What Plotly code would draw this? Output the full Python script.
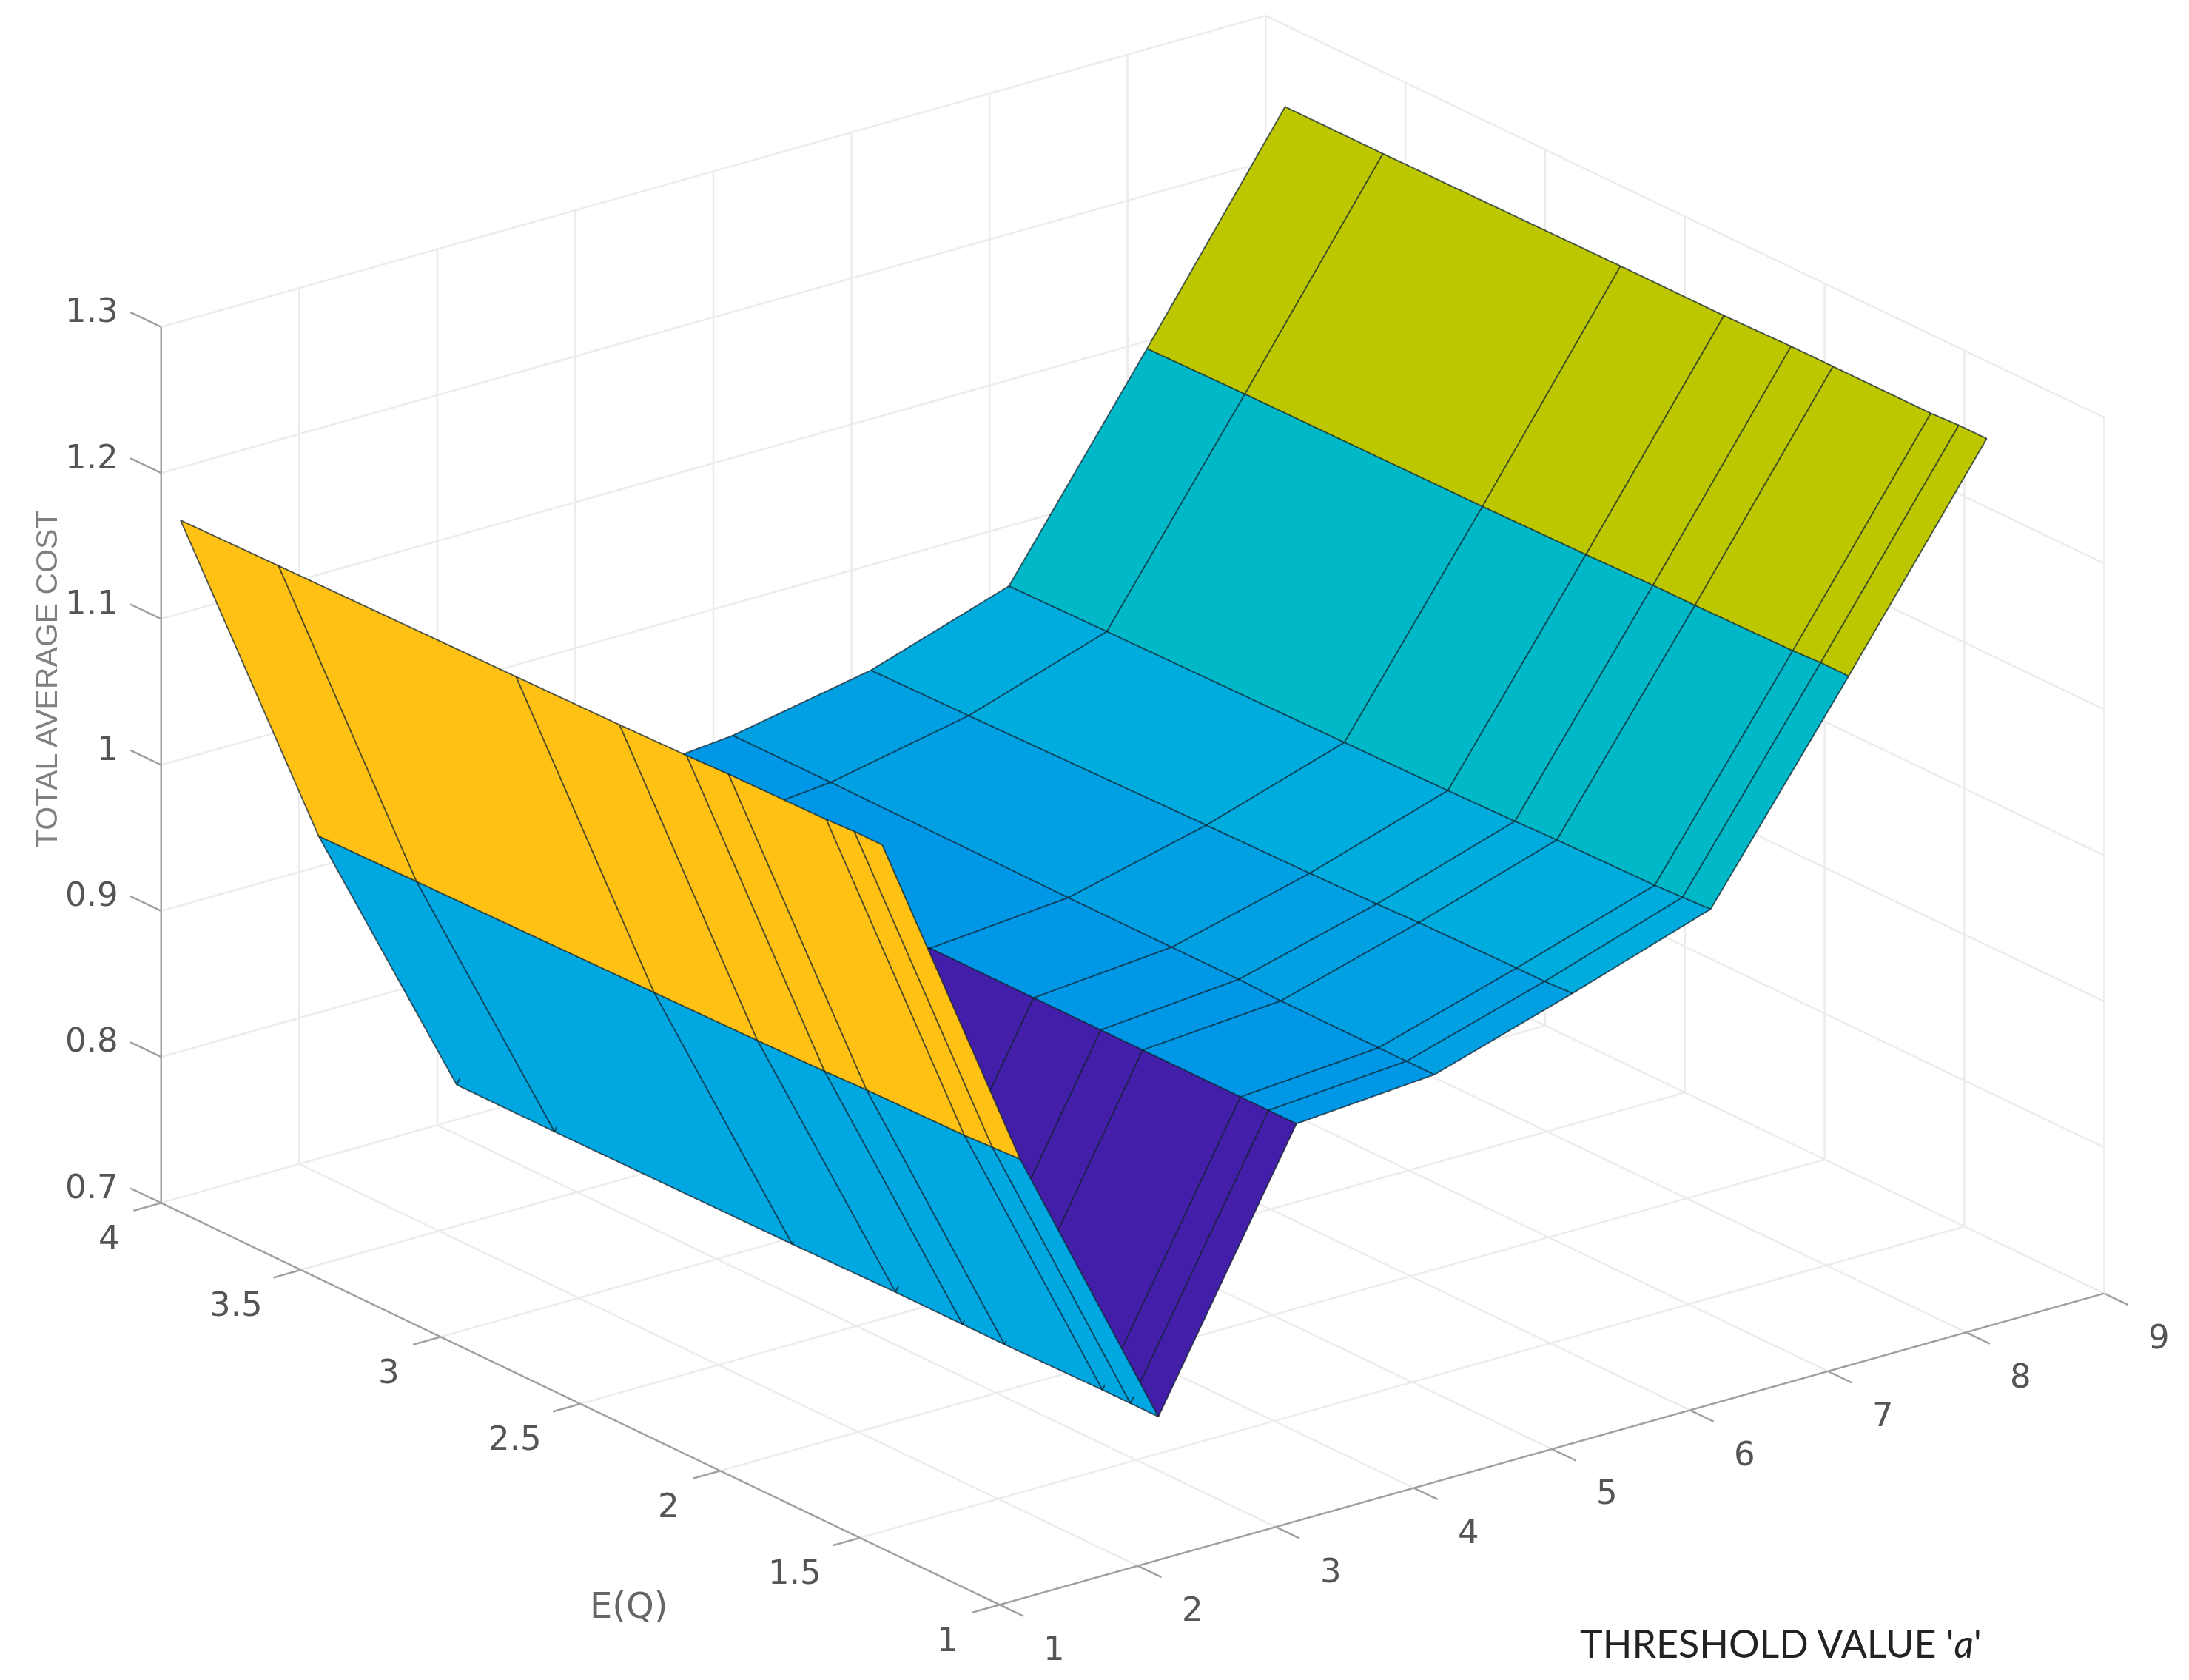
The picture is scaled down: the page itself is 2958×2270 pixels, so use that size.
import numpy as np
import plotly.graph_objects as go

# Seuils a et valeurs E(Q)
threshold = [1, 2, 3, 4, 5, 6, 7, 8, 9]
eq_values = [1.42, 1.52, 1.62, 1.97, 2.12, 2.36, 2.73, 3.58, 3.93]

# Coût moyen total : une ligne par seuil, une colonne par E(Q)
cost = [
    [1.182, 1.182, 1.181, 1.180, 1.179, 1.178, 1.177, 1.175, 1.174],
    [0.940, 0.939, 0.938, 0.937, 0.936, 0.935, 0.934, 0.932, 0.931],
    [0.737, 0.737, 0.737, 0.736, 0.736, 0.736, 0.735, 0.734, 0.734],
    [0.911, 0.911, 0.911, 0.911, 0.911, 0.911, 0.911, 0.911, 0.911],
    [0.918, 0.918, 0.918, 0.918, 0.919, 0.919, 0.919, 0.920, 0.920],
    [0.947, 0.946, 0.946, 0.945, 0.944, 0.943, 0.942, 0.939, 0.938],
    [0.978, 0.977, 0.976, 0.975, 0.974, 0.973, 0.972, 0.970, 0.969],
    [1.111, 1.111, 1.110, 1.109, 1.109, 1.108, 1.107, 1.106, 1.105],
    [1.247, 1.247, 1.246, 1.246, 1.246, 1.245, 1.245, 1.244, 1.244],
]

# Couleur de chaque bande entre deux seuils
band_colors = ["#ffc214", "#00a7e1", "#431fa9", "#0098e6", "#00a0e3", "#00abdd", "#00b8c8", "#bcc700"]

x_ticks = [1, 2, 3, 4, 5, 6, 7, 8, 9]
y_ticks = [1, 1.5, 2, 2.5, 3, 3.5, 4]
z_ticks = [0.7, 0.8, 0.9, 1, 1.1, 1.2, 1.3]
x_labels = ["1", "2", "3", "4", "5", "6", "7", "8", "9"]
y_labels = ["1", "1.5", "2", "2.5", "3", "3.5", "4"]
z_labels = ["0.7", "0.8", "0.9", "1", "1.1", "1.2", "1.3"]

X0, X1 = 1, 9
Y0, Y1 = 1, 4
Z0, Z1 = 0.7, 1.3

# Longueur des graduations, en unités de chaque axe
X_TICK = 0.2
Y_TICK = 0.085
Y_TICK_Z = 0.11
Z_PAD = 0.02

# La plage dépasse un peu la boîte pour que les graduations ne soient pas coupées
x_range = [X0 - X_TICK, X1 + 0.1]
y_range = [Y0 - Y_TICK, Y1 + Y_TICK_Z]
z_range = [Z0 - Z_PAD, Z1 + Z_PAD]

# Échelle de chaque axe, réglée sur la figure d'origine
SCALE_X = 1.724 * 0.995
SCALE_Y = 1.724 * 0.985
SCALE_Z = 1.724 * 0.68 * 0.99
aspect = dict(
    x=SCALE_X * (x_range[1] - x_range[0]) / 8,
    y=SCALE_Y * (y_range[1] - y_range[0]) / 3,
    z=SCALE_Z * (z_range[1] - z_range[0]) / 0.6,
)
view = np.array([-0.566, -0.738, 0.3675])
CENTER_Z = -0.0092

n_a, n_q = len(threshold), len(eq_values)
aa, qq = np.meshgrid(threshold, eq_values, indexing="ij")
zz = np.array(cost)

# Facettes à couleur unie : deux triangles par cellule
i, j, k, face_colors = [], [], [], []
for ia in range(n_a - 1):
    for iq in range(n_q - 1):
        p = ia * n_q + iq
        i += [p, p]
        j += [p + 1, p + n_q + 1]
        k += [p + n_q + 1, p + n_q]
        face_colors += [band_colors[ia], band_colors[ia]]


def segments(pairs):
    xs, ys, zs = [], [], []
    for a, b in pairs:
        xs += [a[0], b[0], None]
        ys += [a[1], b[1], None]
        zs += [a[2], b[2], None]
    return xs, ys, zs


fig = go.Figure()

# Grille sur le sol et les deux parois du fond
grid = []
for v in x_ticks:
    grid.append(((v, Y0, Z0), (v, Y1, Z0)))
    grid.append(((v, Y1, Z0), (v, Y1, Z1)))
for v in y_ticks:
    grid.append(((X0, v, Z0), (X1, v, Z0)))
    grid.append(((X1, v, Z0), (X1, v, Z1)))
for v in z_ticks:
    grid.append(((X0, Y1, v), (X1, Y1, v)))
    grid.append(((X1, Y0, v), (X1, Y1, v)))
gx, gy, gz = segments(grid)
fig.add_trace(go.Scatter3d(x=gx, y=gy, z=gz, mode="lines", line=dict(color="#ececec", width=5),
                           hoverinfo="skip", showlegend=False))

# Axes et graduations
axes = [
    ((X0, Y0, Z0), (X0, Y1, Z0)),
    ((X0, Y1, Z0), (X0, Y1, Z1)),
    ((X0, Y0, Z0), (X1, Y0, Z0)),
]
for v in x_ticks:
    axes.append(((v, Y0, Z0), (v, Y0 - Y_TICK, Z0)))
for v in y_ticks:
    axes.append(((X0, v, Z0), (X0 - X_TICK, v, Z0)))
for v in z_ticks:
    axes.append(((X0, Y1, v), (X0, Y1 + Y_TICK_Z, v)))
ax_x, ax_y, ax_z = segments(axes)
fig.add_trace(go.Scatter3d(x=ax_x, y=ax_y, z=ax_z, mode="lines", line=dict(color="#a0a0a0", width=5),
                           hoverinfo="skip", showlegend=False))

fig.add_trace(go.Mesh3d(
    x=aa.ravel(), y=qq.ravel(), z=zz.ravel(),
    i=i, j=j, k=k,
    facecolor=face_colors,
    flatshading=True,
    lighting=dict(ambient=1, diffuse=0, specular=0, roughness=1, fresnel=0),
    hoverinfo="skip",
    showscale=False,
))

# Maillage noir, décalé vers la caméra pour rester au-dessus des facettes
EPS = 0.015
off_x, off_y, off_z = EPS * view[0] * 8, EPS * view[1] * 3, EPS * view[2] * 0.6 / 0.68
line_x, line_y, line_z = [], [], []
for ia in range(n_a):
    line_x += list(aa[ia, :] + off_x) + [None]
    line_y += list(qq[ia, :] + off_y) + [None]
    line_z += list(zz[ia, :] + off_z) + [None]
for iq in range(n_q):
    line_x += list(aa[:, iq] + off_x) + [None]
    line_y += list(qq[:, iq] + off_y) + [None]
    line_z += list(zz[:, iq] + off_z) + [None]

fig.add_trace(go.Scatter3d(
    x=line_x, y=line_y, z=line_z,
    mode="lines",
    line=dict(color="#10202c", width=4),
    opacity=0.7,
    hoverinfo="skip",
    showlegend=False,
))

# Libellés des graduations, ancrés sur les axes
tick_font = dict(family="DejaVu Sans", size=45, color="#555555")
scene_annotations = []
for v, s in zip(x_ticks, x_labels):
    scene_annotations.append(dict(x=v, y=Y0, z=Z0, text=s, showarrow=False, xanchor="center", yanchor="middle",
                                  xshift=74, yshift=-59, font=tick_font))
for v, s in zip(y_ticks, y_labels):
    scene_annotations.append(dict(x=X0, y=v, z=Z0, text=s, showarrow=False, xanchor="center", yanchor="middle",
                                  xshift=-70 if len(s) == 1 else -88, yshift=-47, font=tick_font))
for v, s in zip(z_ticks, z_labels):
    scene_annotations.append(dict(x=X0, y=Y1, z=v, text=s, showarrow=False, xanchor="right", yanchor="middle",
                                  xshift=-56, yshift=22, font=tick_font))

axis_off = dict(
    showbackground=False,
    showgrid=False,
    zeroline=False,
    showline=False,
    ticks="",
    showticklabels=False,
    title=dict(text=""),
    showspikes=False,
)

fig.update_layout(
    width=2958,
    height=2270,
    margin=dict(l=0, r=0, t=0, b=0),
    paper_bgcolor="white",
    showlegend=False,
    scene=dict(
        domain=dict(x=[0.02, 1], y=[0.034, 1]),
        aspectmode="manual",
        aspectratio=aspect,
        camera=dict(
            projection=dict(type="orthographic"),
            center=dict(x=0, y=0, z=CENTER_Z),
            eye=dict(x=view[0] * 1.5, y=view[1] * 1.5, z=view[2] * 1.5 + CENTER_Z),
            up=dict(x=0, y=0, z=1),
        ),
        xaxis=dict(axis_off, range=x_range),
        yaxis=dict(axis_off, range=y_range),
        zaxis=dict(axis_off, range=z_range),
        annotations=scene_annotations,
    ),
    annotations=[
        dict(text="TOTAL AVERAGE COST", x=55 / 2958, y=1 - 910 / 2270, xref="paper", yref="paper", showarrow=False,
             textangle=-90, xanchor="center", yanchor="middle",
             font=dict(family="Liberation Sans", size=41, color="#808080")),
        dict(text="E(Q)", x=842 / 2958, y=1 - 2161 / 2270, xref="paper", yref="paper", showarrow=False,
             xanchor="center", yanchor="middle", font=dict(family="DejaVu Sans", size=48, color="#666666")),
        dict(text="THRESHOLD VALUE '<i>a</i>'", x=2398 / 2958, y=1 - 2212 / 2270, xref="paper", yref="paper",
             showarrow=False, xanchor="center", yanchor="middle", font=dict(family="Lato", size=52, color="#222222")),
    ],
)

fig.write_html("out.html")
